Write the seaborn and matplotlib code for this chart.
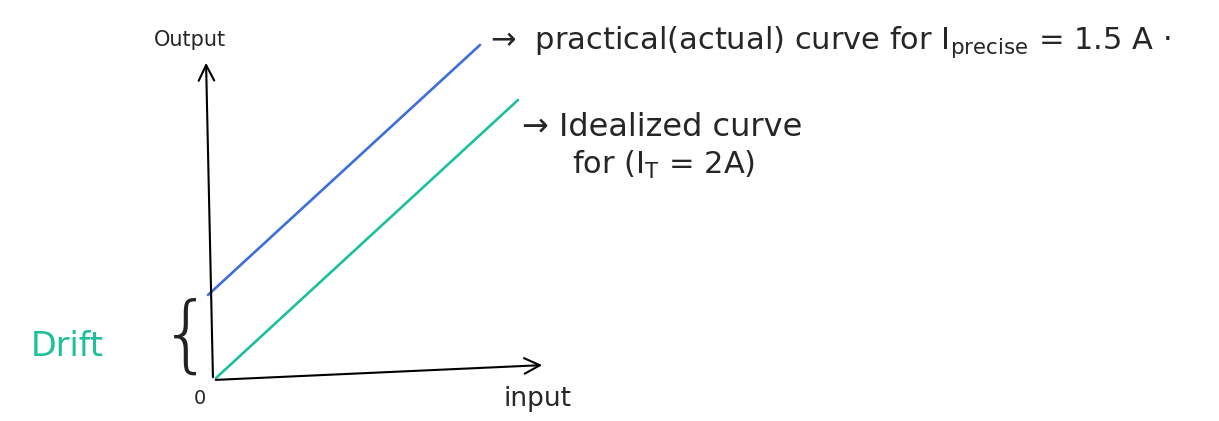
import matplotlib
matplotlib.use("Agg")
import matplotlib.pyplot as plt
import pandas as pd
import seaborn as sns

sns.set_style("white")
plt.rcParams["font.family"] = ["DejaVu Sans"]

# Sketch of sensor output versus input: actual curve offset by drift
practical_input = [-0.5, 26.7]
practical_output = [8.5, 33.5]
ideal_input = [0.3, 30.5]
ideal_output = [0.2, 28.0]

BLUE = "#3d6fd6"
GREEN = "#1ebf9d"

df = pd.concat([
    pd.DataFrame({"input": practical_input, "output": practical_output, "curve": "practical"}),
    pd.DataFrame({"input": ideal_input, "output": ideal_output, "curve": "ideal"}),
])

fig = plt.figure(figsize=(12.19, 4.21), dpi=100)
ax = fig.add_axes([0, 0, 1, 1])
ax.set_xlim(-21.3, 100.6)
ax.set_ylim(-4.1, 38.0)
ax.axis("off")

sns.lineplot(data=df, x="input", y="output", hue="curve",
             palette={"practical": BLUE, "ideal": GREEN},
             linewidth=1.9, legend=False, ax=ax, sort=False)

# hand-drawn style axes with open arrowheads
arrow = dict(arrowstyle="->", color="black", lw=1.5, mutation_scale=28)
ax.annotate("", xy=(-0.7, 32.0), xytext=(0, 0), arrowprops=arrow)
ax.annotate("", xy=(33.2, 1.5), xytext=(0, 0), arrowprops=arrow)

ax.text(-2.3, 34.0, "Output", ha="center", va="center", fontsize=15)
ax.text(32.4, -1.9, "input", ha="center", va="center", fontsize=19)
ax.text(-1.3, -1.9, "0", ha="center", va="center", fontsize=14)

ax.text(-2.7, 4.2, "{", ha="center", va="center", fontsize=60,
        fontweight="light", color="#222222")
ax.text(-14.6, 3.4, "Drift", ha="center", va="center", fontsize=24,
        color=GREEN)

ax.text(27.7, 33.8, r"→  practical(actual) curve for I$_{\rm precise}$ = 1.5 A ·",
        ha="left", va="center", fontsize=22)
ax.text(30.9, 25.2, "→ Idealized curve", ha="left", va="center", fontsize=23)
ax.text(35.9, 21.5, r"for (I$_{\rm T}$ = 2A)", ha="left", va="center", fontsize=22)

fig.savefig("out.png", dpi=100, facecolor="white")
